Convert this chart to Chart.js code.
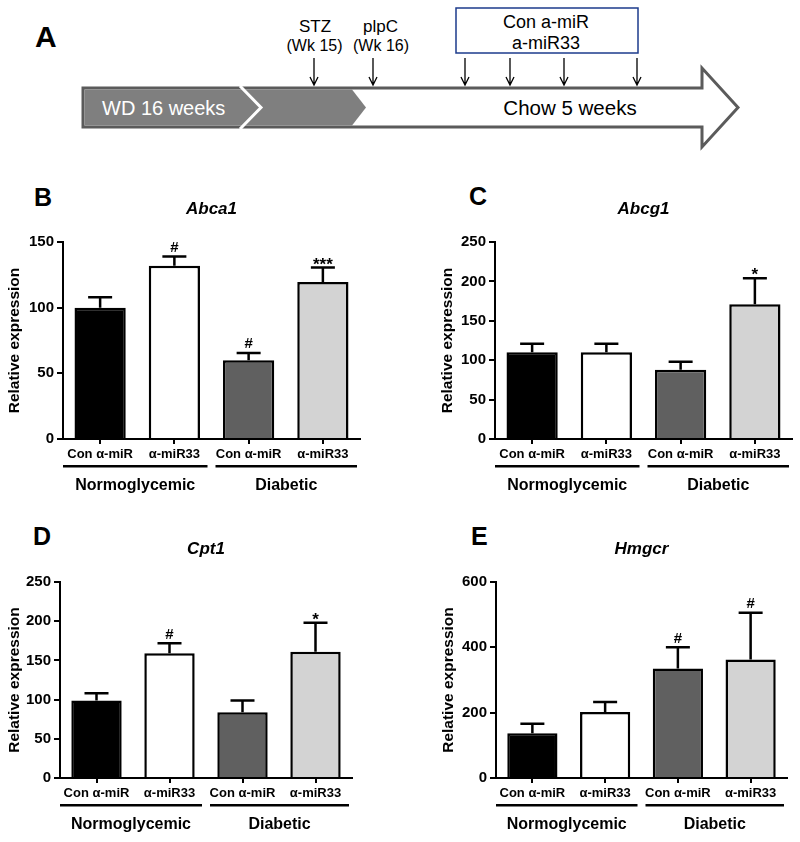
<!DOCTYPE html>
<html>
<head>
<meta charset="utf-8">
<script src="https://cdn.jsdelivr.net/npm/chart.js@4.4.1/dist/chart.umd.min.js"></script>
<style>
  html, body { margin: 0; padding: 0; background: #fff; }
  body { width: 800px; height: 842px; position: relative; overflow: hidden; font-family: 'Liberation Sans', Arial, sans-serif; }
  canvas { position: absolute; }
  #scheme { position: absolute; left: 0; top: 0; }
</style>
</head>
<body>
<svg id="scheme" width="800" height="842" font-family="Liberation Sans, Arial, sans-serif">
  <!-- panel letters -->
  <g font-weight="bold" fill="#000">
    <text x="35" y="47" font-size="30">A</text>
    <text x="34" y="206" font-size="25">B</text>
    <text x="469" y="205" font-size="25">C</text>
    <text x="33" y="545" font-size="25">D</text>
    <text x="471" y="545" font-size="25">E</text>
  </g>
  <!-- timeline arrow -->
  <polygon points="83,88 702,88 702,68 738,107.5 702,147 702,127 83,127" fill="#fff" stroke="#5b5b5b" stroke-width="3"/>
  <polygon points="84.5,89.5 352,89.5 366,107.5 352,125.5 84.5,125.5" fill="#7f7f7f"/>
  <polyline points="240,86 261,107.5 240,129" fill="none" stroke="#fff" stroke-width="3"/>
  <text x="102" y="114.5" fill="#fff" font-size="20">WD 16 weeks</text>
  <text x="570" y="114.5" fill="#000" font-size="20.5" text-anchor="middle">Chow 5 weeks</text>
  <!-- treatments -->
  <g fill="#000" text-anchor="middle">
    <text x="315" y="31.5" font-size="17">STZ</text>
    <text x="314.5" y="51" font-size="16">(Wk 15)</text>
    <text x="380.5" y="31.5" font-size="17">plpC</text>
    <text x="381" y="51" font-size="16">(Wk 16)</text>
    <text x="546" y="28" font-size="18">Con a-miR</text>
    <text x="546" y="49" font-size="18">a-miR33</text>
  </g>
  <rect x="456" y="8" width="182" height="45" fill="none" stroke="#1c3b8c" stroke-width="1.5"/>
  <g stroke="#000" stroke-width="1.3" fill="none">
    <path d="M314,58 V85 M310,77 L314,85 L318,77"/>
    <path d="M373,58 V85 M369,77 L373,85 L377,77"/>
    <path d="M465,58 V85 M461,77 L465,85 L469,77"/>
    <path d="M510,58 V85 M506,77 L510,85 L514,77"/>
    <path d="M564,58 V85 M560,77 L564,85 L568,77"/>
    <path d="M637,58 V85 M633,77 L637,85 L641,77"/>
  </g>
</svg>

<canvas id="abca1"></canvas>
<canvas id="abcg1"></canvas>
<canvas id="cpt1"></canvas>
<canvas id="hmgcr"></canvas>

<script>
// categories and groups
const categories = ['Con α-miR', 'α-miR33', 'Con α-miR', 'α-miR33'];
const groups = ['Normoglycemic', 'Diabetic'];
const groupMembers = [[0, 1], [2, 3]];
const barColors = ['#000000', '#ffffff', '#606060', '#d3d3d3'];

// Abca1
const abca1Means = [100, 132, 60, 119.5];
const abca1Errors = [8, 7, 5.5, 11];
const abca1Marks = ['', '#', '#', '***'];
const abca1Ticks = [0, 50, 100, 150];

// Abcg1
const abcg1Means = [110, 110, 88, 171];
const abcg1Errors = [11, 11, 10, 33];
const abcg1Marks = ['', '', '', '*'];
const abcg1Ticks = [0, 50, 100, 150, 200, 250];

// Cpt1
const cpt1Means = [99, 159, 84, 161];
const cpt1Errors = [9, 13, 15, 37];
const cpt1Marks = ['', '#', '', '*'];
const cpt1Ticks = [0, 50, 100, 150, 200, 250];

// Hmgcr
const hmgcrMeans = [137, 202, 335, 363];
const hmgcrErrors = [29, 31, 65, 143];
const hmgcrMarks = ['', '', '#', '#'];
const hmgcrTicks = [0, 200, 400, 600];

const AXIS_W = 60;   // room for y ticks + title
const PAD_T = 80;    // room above plot for gene name
const PAD_R = 20;
const XAXIS_H = 70;  // room below plot for labels + groups

// error bars, significance marks, gene title, group lines
const panelDecor = {
  id: 'panelDecor',
  afterDatasetsDraw(chart, args, opts) {
    const ctx = chart.ctx;
    const y = chart.scales.y;
    const meta = chart.getDatasetMeta(0);
    const means = chart.data.datasets[0].data;
    ctx.save();
    ctx.strokeStyle = '#000';
    ctx.lineWidth = 2.5;
    ctx.beginPath();
    meta.data.forEach((bar, i) => {
      const cap = y.getPixelForValue(means[i] + opts.errors[i]);
      ctx.moveTo(bar.x, bar.y);
      ctx.lineTo(bar.x, cap);
      ctx.moveTo(bar.x - 12, cap);
      ctx.lineTo(bar.x + 12, cap);
    });
    ctx.stroke();

    ctx.fillStyle = '#000';
    ctx.textAlign = 'center';
    ctx.textBaseline = 'alphabetic';
    meta.data.forEach((bar, i) => {
      const mark = opts.marks[i];
      if (!mark) return;
      const cap = y.getPixelForValue(means[i] + opts.errors[i]);
      if (mark[0] === '#') {
        ctx.font = 'bold 15px "Liberation Sans", Arial';
        ctx.fillText(mark, bar.x, cap - 4.5);
      } else {
        ctx.font = 'bold 17px "Liberation Sans", Arial';
        ctx.fillText(mark, bar.x, cap + 2);
      }
    });
    ctx.restore();
  },
  afterDraw(chart, args, opts) {
    const ctx = chart.ctx;
    const area = chart.chartArea;
    const x = chart.scales.x;
    const cw = x.getPixelForValue(1) - x.getPixelForValue(0);
    ctx.save();
    ctx.fillStyle = '#000';
    ctx.textAlign = 'center';
    ctx.textBaseline = 'middle';
    ctx.font = 'italic bold 17px "Liberation Sans", Arial';
    ctx.fillText(opts.title, (area.left + area.right) / 2, area.top - 33);

    ctx.font = 'bold 16px "Liberation Sans", Arial';
    groupMembers.forEach(([a, b], gi) => {
      let l = x.getPixelForValue(a) - cw / 2;
      let r = x.getPixelForValue(b) + cw / 2;
      if (gi === 0) r -= 4; else { l += 4; r -= 3; }
      ctx.fillRect(l, area.bottom + 26, r - l, 2.5);
      ctx.fillText(groups[gi], (l + r) / 2, area.bottom + 47);
    });
    ctx.restore();
  }
};

function makePanel(id, box, title, means, errors, marks, ticks, titleDist) {
  const canvas = document.getElementById(id);
  canvas.width = box.right - box.left + AXIS_W + PAD_R;
  canvas.height = box.bottom - box.top + PAD_T + XAXIS_H;
  canvas.style.left = (box.left - AXIS_W) + 'px';
  canvas.style.top = (box.top - PAD_T) + 'px';

  new Chart(canvas, {
    type: 'bar',
    data: {
      labels: categories,
      datasets: [{
        data: means,
        backgroundColor: barColors,
        borderColor: '#000',
        borderWidth: 2.5,
        barPercentage: 0.69,
        categoryPercentage: 1
      }]
    },
    options: {
      responsive: false,
      animation: false,
      layout: { padding: { left: 0, right: PAD_R, top: PAD_T, bottom: 0 } },
      plugins: {
        legend: { display: false },
        tooltip: { enabled: false },
        panelDecor: { title: title, errors: errors, marks: marks }
      },
      scales: {
        x: {
          grid: { display: true, offset: false, drawOnChartArea: false, drawTicks: true, tickLength: 5, color: '#000', lineWidth: 2 },
          border: { display: true, color: '#000', width: 2 },
          ticks: { color: '#000', font: { family: '"Liberation Sans", Arial', size: 13, weight: 'bold' }, padding: 3, maxRotation: 0, autoSkip: false },
          afterFit: s => { s.height = XAXIS_H; }
        },
        y: {
          min: ticks[0],
          max: ticks[ticks.length - 1],
          afterBuildTicks: s => { s.ticks = ticks.map(v => ({ value: v })); },
          grid: { drawOnChartArea: false, drawTicks: true, tickLength: 6, color: '#000', lineWidth: 2 },
          border: { display: true, color: '#000', width: 2 },
          ticks: { color: '#000', font: { family: '"Liberation Sans", Arial', size: 15, weight: 'bold' }, padding: 3 },
          title: {
            display: true,
            text: 'Relative expression',
            color: '#000',
            font: { family: '"Liberation Sans", Arial', size: 15.5, weight: 'bold' },
            padding: { top: AXIS_W - titleDist - 9.3, bottom: 0 }
          },
          afterFit: s => { s.width = AXIS_W; }
        }
      }
    },
    plugins: [panelDecor]
  });
}

makePanel('abca1', { left: 63, right: 360, top: 242, bottom: 439 }, 'Abca1', abca1Means, abca1Errors, abca1Marks, abca1Ticks, 48);
makePanel('abcg1', { left: 495, right: 792, top: 242, bottom: 439 }, 'Abcg1', abcg1Means, abcg1Errors, abcg1Marks, abcg1Ticks, 47);
makePanel('cpt1', { left: 60, right: 352, top: 582, bottom: 778 }, 'Cpt1', cpt1Means, cpt1Errors, cpt1Marks, cpt1Ticks, 45);
makePanel('hmgcr', { left: 496, right: 787, top: 582, bottom: 778 }, 'Hmgcr', hmgcrMeans, hmgcrErrors, hmgcrMarks, hmgcrTicks, 47);
</script>
</body>
</html>
